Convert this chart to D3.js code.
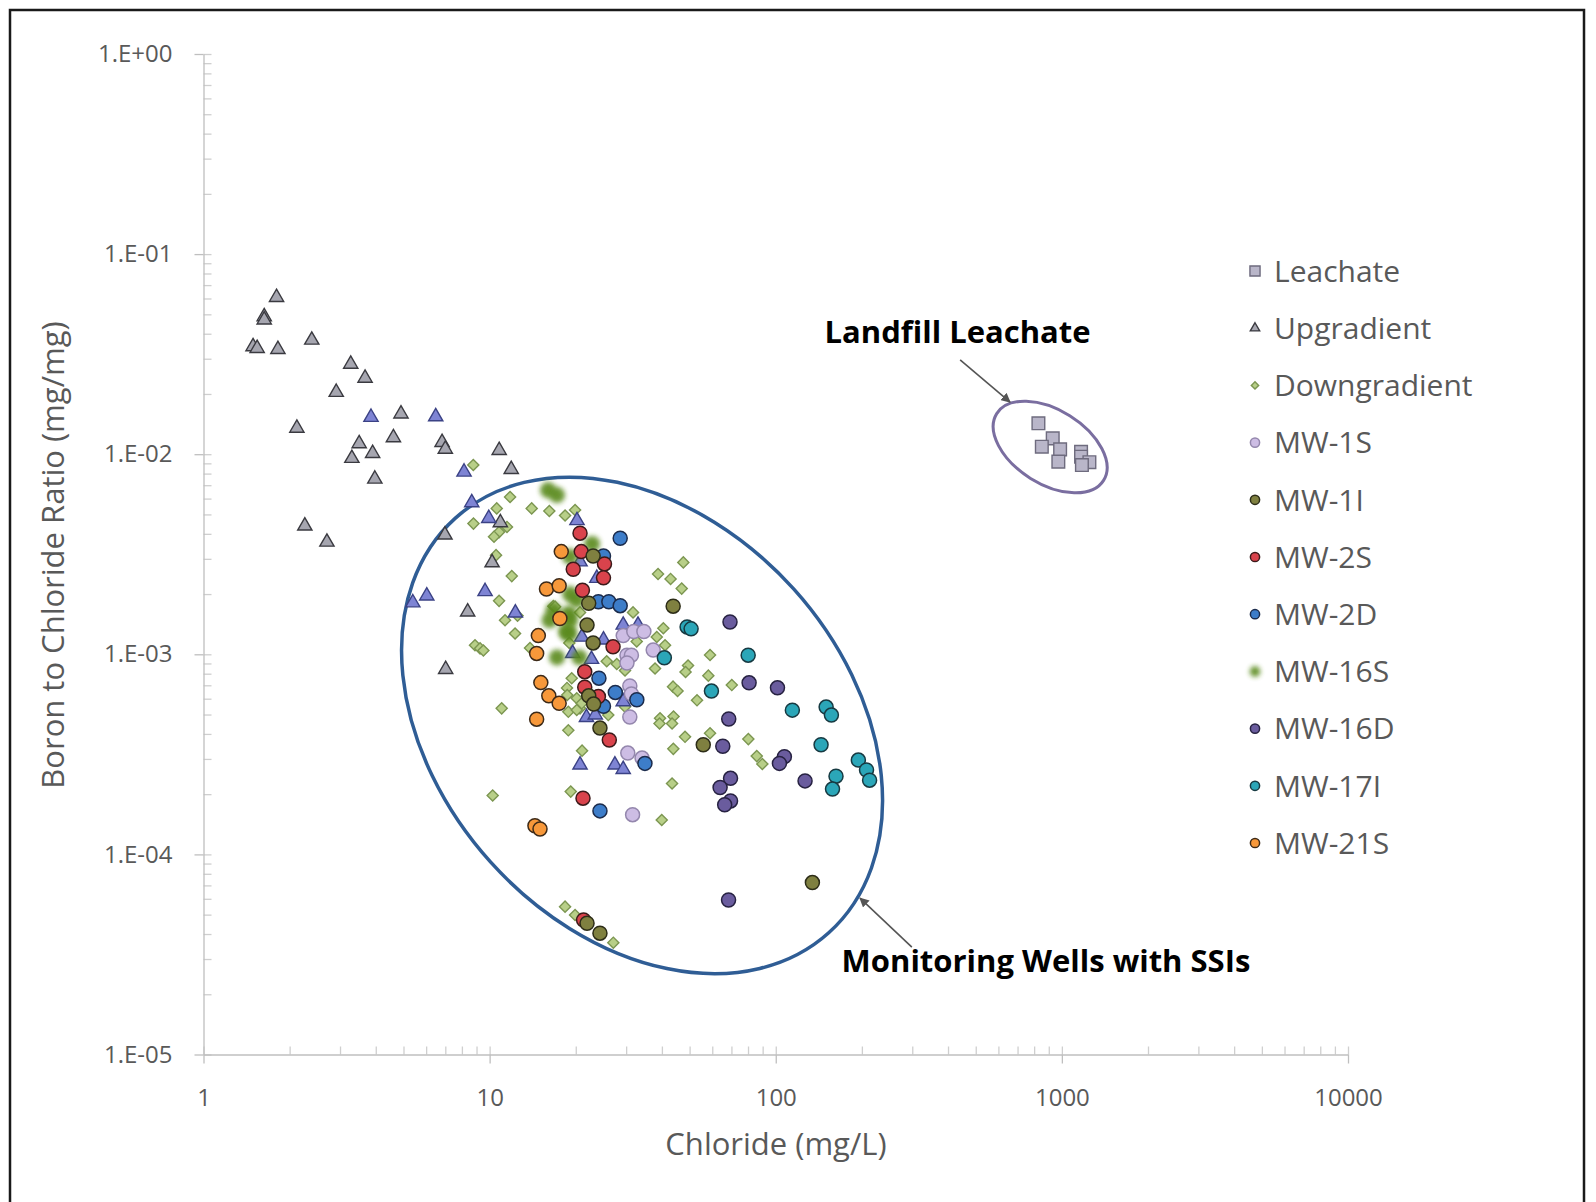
<!DOCTYPE html>
<html>
  <head>
    <meta charset="utf-8">
    <title>Boron to Chloride Ratio vs Chloride</title>
    <script src="https://cdn.jsdelivr.net/npm/d3@7"></script>
    <style>
      body { margin: 0; background: #fff; }
      .axis text {
        font-family: 'Open Sans', sans-serif;
        font-size: 24px;
        fill: #595959;
      }
      .axis path, .axis line {
        fill: none;
        stroke: #bfbfbf;
        stroke-width: 1.3;
      }
      .minor line { stroke: #cfcfcf; }
      .minor path { stroke: none; }
      .axis-title {
        font-family: 'Open Sans', sans-serif;
        font-size: 31px;
        fill: #595959;
        text-anchor: middle;
      }
      .legend text {
        font-family: 'Open Sans', sans-serif;
        font-size: 30px;
        fill: #595959;
      }
      .note {
        font-family: 'Open Sans', sans-serif;
        font-weight: bold;
        font-size: 31px;
        fill: #000;
        text-anchor: middle;
      }
    </style>
  </head>
  <body>
    <script>

      // ---- data (chloride mg/L, boron/chloride mg/mg) ----
      var leachateX = [828, 929, 851, 986, 972, 1167, 1167, 1248, 1175];
      var leachateY = [0.01427, 0.0120, 0.0109, 0.01057, 0.00918, 0.01028, 0.00972, 0.00912, 0.00883];

      // upgradient wells, far (background) and near the downgradient cluster
      var upgradientFarX = [1.80, 1.63, 1.63, 1.49, 1.54, 1.82, 2.39, 3.27, 3.67, 2.91, 4.90, 2.12, 4.61, 3.50,
                            3.90, 3.30, 6.82, 7.00, 10.8, 3.97, 11.9, 2.26, 2.70, 10.9, 10.2, 6.98, 7.02, 8.38];
      var upgradientFarY = [0.0608, 0.0487, 0.0469, 0.0345, 0.0338, 0.0334, 0.0372, 0.0282, 0.0240, 0.0204, 0.0159,
                            0.0135, 0.0121, 0.0113, 0.0101, 0.00954, 0.01146, 0.0106, 0.01045, 0.00752, 0.0084,
                            0.00438, 0.00364, 0.00455, 0.00287, 0.00395, 0.000841, 0.00163];
      var upgradientNearX = [3.85, 6.48, 8.14, 8.66, 9.93, 6.03, 5.39, 9.64, 20.2, 12.3, 23.7, 29.3, 21.0, 25.0,
                             19.5, 22.7, 21.8, 23.4, 20.7, 27.4, 29.3, 29.3, 33.0, 20.7];
      var upgradientNearY = [0.0153, 0.0154, 0.00815, 0.00573, 0.00478, 0.00196, 0.00181, 0.00206, 0.00466, 0.00161,
                             0.0024, 0.0014, 0.00122, 0.00118, 0.00101, 0.000944, 0.000484, 0.000498, 0.00028,
                             0.00028, 0.000266, 0.00058, 0.0014, 0.0029];

      var downgradientX = [8.77, 11.79, 14.03, 16.17, 18.35, 19.89, 10.59, 8.78, 11.50, 10.79, 10.36, 10.53, 11.95,
                           10.79, 11.32, 12.52, 12.27, 8.89, 9.26, 9.51, 11.02, 16.70, 18.99, 13.84, 20.70, 25.66,
                           27.82, 29.73, 31.71, 32.67, 38.78, 42.89, 46.92, 47.53, 40.47, 38.38, 41.03, 37.85, 49.37,
                           48.39, 43.75, 45.37, 39.41, 43.93, 39.25, 43.41, 48.19, 43.86, 53.07, 18.84, 18.64, 20.70,
                           21.04, 18.84, 19.36, 18.68, 20.16, 20.99, 20.16, 25.99, 29.73, 58.93, 58.13, 70.20, 58.93,
                           80.22, 85.82, 89.78, 43.41, 10.25, 19.21, 39.95, 18.35, 19.89, 27.06, 16.93];
      var downgradientY = [8.83e-3, 6.11e-3, 5.36e-3, 5.20e-3, 4.94e-3, 5.26e-3, 5.36e-3, 4.50e-3, 4.33e-3, 4.08e-3,
                           3.87e-3, 3.13e-3, 2.46e-3, 1.85e-3, 1.48e-3, 1.56e-3, 1.27e-3, 1.11e-3, 1.07e-3, 1.045e-3,
                           5.37e-4, 1.74e-3, 1.14e-3, 1.075e-3, 1.62e-3, 9.23e-4, 8.94e-4, 8.30e-4, 1.62e-3, 1.16e-3,
                           2.52e-3, 2.38e-3, 2.13e-3, 2.88e-3, 1.35e-3, 1.22e-3, 1.11e-3, 8.49e-4, 8.79e-4, 8.16e-4,
                           6.89e-4, 6.56e-4, 4.79e-4, 4.89e-4, 4.51e-4, 4.51e-4, 3.87e-4, 3.37e-4, 5.89e-4, 4.17e-4,
                           6.79e-4, 5.37e-4, 3.30e-4, 5.16e-4, 7.59e-4, 6.26e-4, 6.03e-4, 5.69e-4, 5.27e-4, 4.97e-4,
                           5.47e-4, 9.92e-4, 7.82e-4, 7.02e-4, 4.03e-4, 3.77e-4, 3.10e-4, 2.83e-4, 2.26e-4, 1.97e-4,
                           2.06e-4, 1.485e-4, 5.48e-5, 4.98e-5, 3.62e-5, 1.73e-3];

      var mw1sX = [29.3, 31.9, 34.6, 37.3, 30.2, 31.3, 30.2, 30.9, 31.3, 30.9, 30.4, 34.1, 31.6];
      var mw1sY = [1.24e-3, 1.30e-3, 1.30e-3, 1.05e-3, 9.9e-4, 9.9e-4, 9.05e-4, 6.95e-4, 6.33e-4, 4.86e-4, 3.21e-4,
                   3.03e-4, 1.58e-4];
      var mw1iX = [23.0, 22.2, 43.8, 21.9, 23.0, 22.2, 23.1, 24.3, 55.8, 134.3, 21.9, 24.3];
      var mw1iY = [3.1e-3, 1.8e-3, 1.74e-3, 1.40e-3, 1.14e-3, 6.2e-4, 5.64e-4, 4.28e-4, 3.53e-4, 7.23e-5, 4.53e-5, 4.04e-5];
      var mw2sX = [20.7, 20.9, 19.6, 25.2, 25.0, 21.1, 27.0, 21.5, 21.5, 24.0, 26.2, 21.2, 21.3];
      var mw2sY = [4.03e-3, 3.26e-3, 2.66e-3, 2.83e-3, 2.41e-3, 2.09e-3, 1.09e-3, 8.19e-4, 6.85e-4, 6.15e-4, 3.73e-4,
                   1.91e-4, 4.70e-5];
      var mw2dX = [28.6, 24.0, 26.1, 28.6, 25.0, 24.1, 27.5, 32.7, 25.0, 34.9, 24.3];
      var mw2dY = [3.80e-3, 1.83e-3, 1.83e-3, 1.75e-3, 3.1e-3, 7.6e-4, 6.45e-4, 5.93e-4, 5.5e-4, 2.85e-4, 1.65e-4];
      var mw16sX = [16.0, 17.2, 22.8, 19.1, 19.1, 20.2, 16.7, 18.9, 16.2, 19.1, 18.5, 17.2, 20.6, 19.0];
      var mw16sY = [6.62e-3, 6.25e-3, 3.56e-3, 3.08e-3, 2.0e-3, 1.87e-3, 1.66e-3, 1.6e-3, 1.48e-3, 1.48e-3, 1.30e-3,
                    9.65e-4, 9.65e-4, 1.27e-3];
      var mw16dX = [69.2, 80.7, 101.4, 68.5, 65.3, 107.2, 103, 69.5, 63.9, 126.6, 69.5, 66.3, 68.4];
      var mw16dY = [1.45e-3, 7.2e-4, 6.8e-4, 4.75e-4, 3.47e-4, 3.08e-4, 2.85e-4, 2.4e-4, 2.16e-4, 2.33e-4, 1.85e-4,
                    1.77e-4, 5.92e-5];
      var mw17iX = [49.0, 50.6, 80.1, 40.8, 59.6, 114.3, 150, 156.5, 144, 194.4, 207.6, 212.8, 162.4, 157.9];
      var mw17iY = [1.37e-3, 1.34e-3, 9.9e-4, 9.6e-4, 6.55e-4, 5.26e-4, 5.45e-4, 4.97e-4, 3.53e-4, 2.96e-4, 2.64e-4,
                    2.35e-4, 2.46e-4, 2.12e-4];
      var mw21sX = [17.8, 15.8, 17.5, 17.6, 14.8, 14.6, 15.1, 16.1, 17.5, 14.6, 14.4, 15.0];
      var mw21sY = [3.26e-3, 2.12e-3, 2.20e-3, 1.51e-3, 1.24e-3, 1.01e-3, 7.22e-4, 6.2e-4, 5.69e-4, 4.74e-4, 1.39e-4, 1.34e-4];

      var xTickValues = [1, 10, 100, 1000, 10000];
      var yTickValues = [1e-5, 1e-4, 1e-3, 1e-2, 1e-1, 1];
      var legendLabels = ["Leachate", "Upgradient", "Downgradient", "MW-1S", "MW-1I", "MW-2S", "MW-2D",
                          "MW-16S", "MW-16D", "MW-17I", "MW-21S"];

      // annotation anchors, in data units
      var leachateRing = { x: 910, y: 0.01086 };
      var wellsRing = { x: 34.1, y: 4.41e-4 };
      var notes = [
        { text: "Landfill Leachate", x: 432, y: 0.0408, from: [441, 0.0296], to: [659, 0.01823] },
        { text: "Monitoring Wells with SSIs", x: 880, y: 2.93e-5, from: [299, 3.44e-5], to: [197, 6.05e-5] }
      ];

      // ---- layout ----
      var outerWidth = 1596;
      var outerHeight = 1202;
      var plot = { left: 203.5, right: 1348, top: 54, bottom: 1054.5 };

      var svg = d3.select("body").append("svg")
        .attr("width", outerWidth)
        .attr("height", outerHeight);

      var defs = svg.append("defs");
      defs.append("filter").attr("id", "fuzz")
        .attr("x", "-60%").attr("y", "-60%").attr("width", "220%").attr("height", "220%")
        .append("feGaussianBlur").attr("stdDeviation", 2.4);
      var marker = defs.append("marker")
        .attr("id", "arrow")
        .attr("viewBox", "0 0 10 10")
        .attr("refX", 9).attr("refY", 5)
        .attr("markerWidth", 6).attr("markerHeight", 6)
        .attr("markerUnits", "strokeWidth")
        .attr("orient", "auto");
      marker.append("path").attr("d", "M0,0 L10,5 L0,10 z").attr("fill", "#555");

      // frame
      svg.append("path")
        .attr("d", "M10,1205 V10 H1584 V1205")
        .attr("fill", "none")
        .attr("stroke", "#1a1a1a")
        .attr("stroke-width", 2.5);

      var xScale = d3.scaleLog().domain([1, 10000]).range([plot.left, plot.right]);
      var yScale = d3.scaleLog().domain([1e-5, 1]).range([plot.bottom, plot.top]);

      function sciFormat(d) {
        var e = Math.round(Math.log10(d));
        return "1.E" + (e < 0 ? "-" : "+") + (Math.abs(e) < 10 ? "0" : "") + Math.abs(e);
      }

      function minorTicks(majors) {
        var out = [];
        majors.forEach(function(m, i) {
          out.push(m);
          if (i < majors.length - 1) {
            for (var k = 2; k < 10; k++) out.push(m * k);
          }
        });
        return out;
      }

      // minor ticks (inside)
      svg.append("g")
        .attr("class", "axis minor")
        .attr("transform", "translate(" + plot.left + ",0)")
        .call(d3.axisRight(yScale).tickValues(minorTicks(yTickValues)).tickSize(8).tickFormat(""));
      svg.append("g")
        .attr("class", "axis minor")
        .attr("transform", "translate(0," + plot.bottom + ")")
        .call(d3.axisTop(xScale).tickValues(minorTicks(xTickValues)).tickSize(8).tickFormat(""));

      // major ticks and labels
      svg.append("g")
        .attr("class", "axis")
        .attr("transform", "translate(" + plot.left + ",0)")
        .call(d3.axisLeft(yScale).tickValues(yTickValues).tickFormat(sciFormat)
          .tickSize(9).tickSizeOuter(0).tickPadding(22));
      svg.append("g")
        .attr("class", "axis")
        .attr("transform", "translate(0," + plot.bottom + ")")
        .call(d3.axisBottom(xScale).tickValues(xTickValues).tickFormat(d3.format("d"))
          .tickSize(9).tickSizeOuter(0).tickPadding(25));

      svg.append("text")
        .attr("class", "axis-title")
        .attr("x", 776).attr("y", 1155)
        .text("Chloride (mg/L)");
      svg.append("text")
        .attr("class", "axis-title")
        .attr("transform", "translate(64,555) rotate(-90)")
        .text("Boron to Chloride Ratio (mg/mg)");

      // rings around the groups
      svg.append("ellipse")
        .attr("transform", "translate(" + xScale(wellsRing.x) + "," + yScale(wellsRing.y) + ") rotate(48)")
        .attr("rx", 279).attr("ry", 204)
        .attr("fill", "none").attr("stroke", "#2f5d95").attr("stroke-width", 3.5);
      svg.append("ellipse")
        .attr("transform", "translate(" + xScale(leachateRing.x) + "," + yScale(leachateRing.y) + ") rotate(32)")
        .attr("rx", 63).attr("ry", 37)
        .attr("fill", "none").attr("stroke", "#7a6ea0").attr("stroke-width", 3);

      // ---- series ----
      var series = [
        { name: "Leachate", xs: leachateX, ys: leachateY, shape: d3.symbolSquare, size: 160, fill: "#b9b6c9", stroke: "#6e6b7e" },
        { name: "Downgradient", xs: downgradientX, ys: downgradientY, shape: "diamond", size: 62, fill: "#b8cf88", stroke: "#7c9651" },
        { name: "Upgradient", xs: upgradientFarX, ys: upgradientFarY, shape: d3.symbolTriangle, size: 88, fill: "#a6a6b0", stroke: "#3a3a40" },
        { name: "Upgradient", xs: upgradientNearX, ys: upgradientNearY, shape: d3.symbolTriangle, size: 88, fill: "#7e84d4", stroke: "#3b4285" },
        { name: "MW-1S", xs: mw1sX, ys: mw1sY, shape: "circle", fill: "#cdbde4", stroke: "#9487ad" },
        { name: "MW-16S", xs: mw16sX, ys: mw16sY, shape: "fuzzy", fill: "#5a8a1c", stroke: "none" },
        { name: "MW-21S", xs: mw21sX, ys: mw21sY, shape: "circle", fill: "#f7983a", stroke: "#3d2a18" },
        { name: "MW-2D", xs: mw2dX, ys: mw2dY, shape: "circle", fill: "#3d7dc9", stroke: "#1c2c4c" },
        { name: "MW-2S", xs: mw2sX, ys: mw2sY, shape: "circle", fill: "#d9434c", stroke: "#3c1a1a" },
        { name: "MW-1I", xs: mw1iX, ys: mw1iY, shape: "circle", fill: "#7f8040", stroke: "#2d2d18" },
        { name: "MW-16D", xs: mw16dX, ys: mw16dY, shape: "circle", fill: "#6a5c9e", stroke: "#272242" },
        { name: "MW-17I", xs: mw17iX, ys: mw17iY, shape: "circle", fill: "#2ba6b8", stroke: "#173a42" }
      ];

      function drawMarks(g, s, pts, scale) {
        var sel = g.selectAll(null).data(pts).enter();
        if (s.shape === "circle" || s.shape === "fuzzy") {
          var c = sel.append("circle")
            .attr("cx", function(d) { return d.px; })
            .attr("cy", function(d) { return d.py; })
            .attr("r", (s.shape === "fuzzy" ? 8 : 7) * scale)
            .attr("fill", s.fill)
            .attr("stroke", s.stroke)
            .attr("stroke-width", 1.5);
          if (s.shape === "fuzzy") c.attr("filter", "url(#fuzz)").attr("opacity", 0.9);
        } else {
          var isDiamond = s.shape === "diamond";
          sel.append("path")
            .attr("d", d3.symbol().type(isDiamond ? d3.symbolSquare : s.shape).size(s.size * scale * scale))
            .attr("transform", function(d) {
              return "translate(" + d.px + "," + d.py + ")" + (isDiamond ? " rotate(45)" : "");
            })
            .attr("fill", s.fill)
            .attr("stroke", s.stroke)
            .attr("stroke-width", 1.4);
        }
      }

      var marks = svg.append("g").attr("class", "marks");
      series.forEach(function(s) {
        var pts = d3.zip(s.xs, s.ys).map(function(p) {
          return { px: xScale(p[0]), py: yScale(p[1]) };
        });
        drawMarks(marks.append("g"), s, pts, 1);
      });

      // ---- legend ----
      var legend = svg.append("g").attr("class", "legend")
        .attr("transform", "translate(1255,271)");
      legendLabels.forEach(function(name, i) {
        var s = series.filter(function(d) { return d.name === name; })[0];
        var row = legend.append("g").attr("transform", "translate(0," + i * 57.2 + ")");
        drawMarks(row, s, [{ px: 0, py: 0 }], name === "Leachate" ? 0.8 : 0.66);
        row.append("text")
          .attr("x", 19)
          .attr("dy", "0.36em")
          .text(name);
      });

      // ---- annotations ----
      notes.forEach(function(n) {
        svg.append("line")
          .attr("x1", xScale(n.from[0])).attr("y1", yScale(n.from[1]))
          .attr("x2", xScale(n.to[0])).attr("y2", yScale(n.to[1]))
          .attr("stroke", "#555")
          .attr("stroke-width", 1.6)
          .attr("marker-end", "url(#arrow)");
        svg.append("text")
          .attr("class", "note")
          .attr("x", xScale(n.x))
          .attr("y", yScale(n.y))
          .attr("dy", "0.35em")
          .text(n.text);
      });

    </script>
  </body>
</html>
